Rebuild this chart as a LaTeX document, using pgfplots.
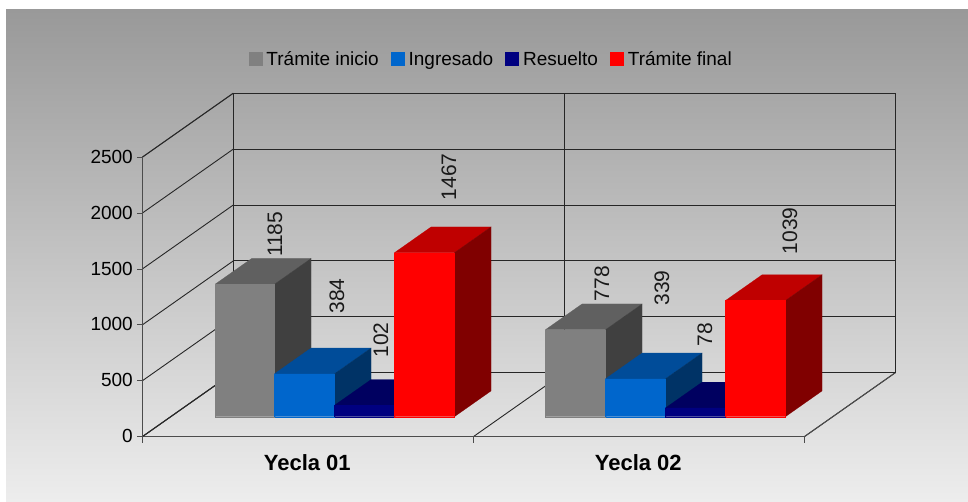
\documentclass[border=0pt]{standalone}
\usepackage{pgfplots}
\pgfplotsset{compat=1.18}
\usepackage{fontspec}
\setmainfont{Liberation Sans}
\definecolor{gF}{HTML}{808080}\definecolor{gT}{HTML}{606060}\definecolor{gS}{HTML}{404040}
\definecolor{bF}{HTML}{0066CC}\definecolor{bT}{HTML}{004C99}\definecolor{bS}{HTML}{003366}
\definecolor{nF}{HTML}{000080}\definecolor{nT}{HTML}{000060}\definecolor{nS}{HTML}{000040}
\definecolor{rF}{HTML}{FF0000}\definecolor{rT}{HTML}{BF0000}\definecolor{rS}{HTML}{800000}
% x0, x1, value, colour stem
\newcommand\tdbar[4]{%
 \addplot3[fill=#4T,draw=#4T,line width=0.2pt,forget plot] coordinates {(#1,0.3125,#3)(#2,0.3125,#3)(#2,0.715,#3)(#1,0.715,#3)(#1,0.3125,#3)};
 \addplot3[fill=#4S,draw=#4S,line width=0.2pt,forget plot] coordinates {(#2,0.3125,0)(#2,0.715,0)(#2,0.715,#3)(#2,0.3125,#3)(#2,0.3125,0)};
 \addplot3[fill=#4F,draw=#4F,line width=0.2pt,forget plot] coordinates {(#1,0.3125,0)(#2,0.3125,0)(#2,0.3125,#3)(#1,0.3125,#3)(#1,0.3125,0)};
}
\newcommand\lgimg[1]{\addlegendimage{legend image code/.code={\fill[#1] (0pt,-6.5pt) rectangle (13pt,6.5pt);}}}
\begin{document}
\begin{tikzpicture}[x=1pt,y=1pt]
\path[use as bounding box,fill=white] (0,0) rectangle (968,502);
\shade[top color=black!40!white,bottom color=black!7!white] (6,0) rectangle (968,492);
\begin{axis}[
  at={(142.3pt,65.3pt)},anchor=origin,
  x={(331pt,0pt)},y={(91pt,64pt)},z={(0pt,0.1118pt)},
  xmin=0,xmax=2,ymin=0,ymax=1,zmin=0,zmax=2500,
  clip=false,
  xtick={0,1,2},xticklabels={},ytick=\empty,ztick={0,500,1000,1500,2000,2500},
  extra x ticks={0.5,1.5},extra x tick labels={Yecla 01,Yecla 02},
  extra x tick style={grid=none,tick label style={font=\fontsize{22}{24}\selectfont\bfseries,yshift=-14pt,xshift=5.5pt}},
  grid=major,
  major grid style={black!85,line width=0.9pt},
  axis line style={black!70,line width=1pt},
  major tick length=0pt,
  tick label style={font=\fontsize{19}{21}\selectfont},
  z tick label style={anchor=east,xshift=-6pt,yshift=0.5pt},
  /pgf/number format/assume math mode=true,
  /pgf/number format/set thousands separator={},
  legend columns=4,
  legend style={at={(axis description cs:0.4633,1.1)},anchor=center,draw=none,fill=none,
    font=\fontsize{19}{21}\selectfont,inner sep=0pt,
    nodes={text height=15pt,text depth=2pt},
    /tikz/every even column/.append style={column sep=10pt},
    /tikz/every odd column/.append style={column sep=2.5pt}},
]
\lgimg{gF}\addlegendentry{Trámite inicio}
\lgimg{bF}\addlegendentry{Ingresado}
\lgimg{nF}\addlegendentry{Resuelto}
\lgimg{rF}\addlegendentry{Trámite final}
% tick marks in the screen's directions
\pgfplotsinvokeforeach{0,500,1000,1500,2000,2500}{\draw[black!70,line width=0.8pt] (axis cs:0,0,#1) -- ++(-5.5pt,0pt);}
\pgfplotsinvokeforeach{0,1,2}{\draw[black!70,line width=0.8pt] (axis cs:#1,0,0) -- ++(0pt,-6pt);}
% value labels (behind the bars)
\tikzset{vl/.style={rotate=90,font=\fontsize{21}{23}\selectfont,anchor=center,inner sep=0pt,text=black!90}}
\node[vl] at (axis cs:0.4009,0,1810) {1185};
\node[vl] at (axis cs:0.5882,0,1258) {384};
\node[vl] at (axis cs:0.7211,0,865) {102};
\node[vl] at (axis cs:0.9266,0,2323) {1467};
\node[vl] at (axis cs:1.3888,0,1370) {778};
\node[vl] at (axis cs:1.5701,0,1330) {339};
\node[vl] at (axis cs:1.6999,0,910) {78};
\node[vl] at (axis cs:1.9568,0,1840) {1039};
\tdbar{0.134}{0.3135}{1185}{g}
\tdbar{0.3135}{0.4948}{384}{b}
\tdbar{0.4948}{0.676}{102}{n}
\tdbar{0.676}{0.857}{1467}{r}
\tdbar{1.132}{1.3135}{778}{g}
\tdbar{1.3135}{1.4945}{339}{b}
\tdbar{1.4945}{1.676}{78}{n}
\tdbar{1.676}{1.857}{1039}{r}
\end{axis}
\end{tikzpicture}
\end{document}
